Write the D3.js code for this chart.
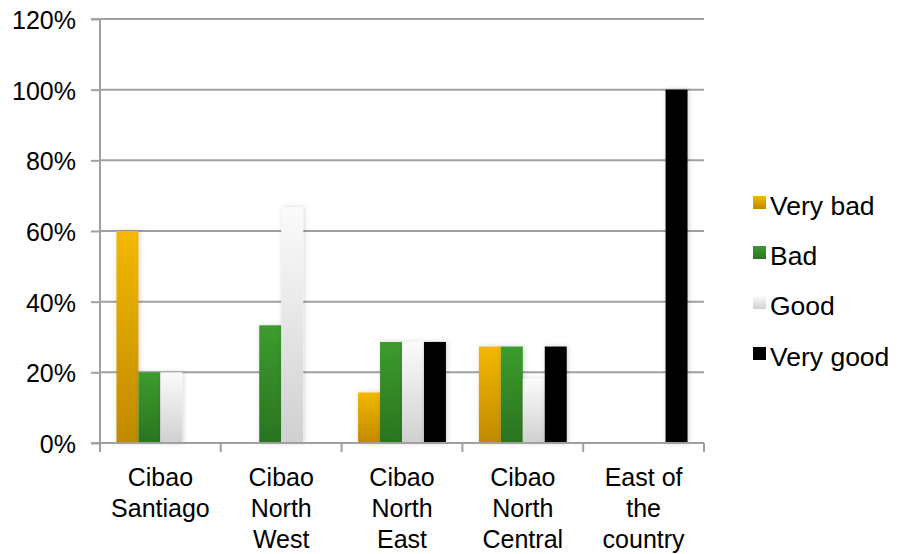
<!DOCTYPE html>
<html>
<head>
<meta charset="utf-8">
<script src="https://cdn.jsdelivr.net/npm/d3@7"></script>
<style>
  html, body { margin: 0; padding: 0; background: #fff; }
  svg { display: block; font-family: "Liberation Sans", Arial, sans-serif; }
</style>
</head>
<body>
<svg id="chart" width="898" height="554"></svg>
<script>
// Regions surveyed and the share of answers per rating
const regions = [
  ["Cibao", "Santiago"],
  ["Cibao", "North", "West"],
  ["Cibao", "North", "East"],
  ["Cibao", "North", "Central"],
  ["East of", "the", "country"]
];
const ratings = ["Very bad", "Bad", "Good", "Very good"];
const veryBad  = [0.60, 0.00, 0.143, 0.273, 0.00];
const bad      = [0.20, 0.333, 0.286, 0.273, 0.00];
const good     = [0.20, 0.667, 0.286, 0.182, 0.00];
const veryGood = [0.00, 0.00, 0.286, 0.273, 1.00];
const yTicks = [0, 0.2, 0.4, 0.6, 0.8, 1.0, 1.2];

const seriesValues = [veryBad, bad, good, veryGood];

const svg = d3.select("#chart");
const FONT = 25;
const LEGEND_FONT = 26.5;
const margin = { left: 100, right: 194, top: 19, bottom: 111 };
const W = 898, H = 554;
const x0 = margin.left, x1 = W - margin.right;
const yTop = margin.top, yBottom = H - margin.bottom;

const regionIdx = d3.range(regions.length);
const x = d3.scaleBand().domain(regionIdx).range([x0, x1]).paddingInner(0).paddingOuter(0);
const xs = d3.scaleBand().domain(ratings).range([0, x.bandwidth()]).paddingInner(0).paddingOuter(0.75);
const y = d3.scaleLinear().domain([0, 1.2]).range([yBottom, yTop]);

// Gradients for the bar fills
const defs = svg.append("defs");
const grads = [
  { id: "gVeryBad", top: "#F3B800", bottom: "#C08A00" },
  { id: "gBad", top: "#3C9C2E", bottom: "#2A741F" },
  { id: "gGood", top: "#FBFBFB", bottom: "#D0D0D0" },
  { id: "gVeryGood", top: "#000000", bottom: "#000000" }
];
grads.forEach(g => {
  const lg = defs.append("linearGradient").attr("id", g.id)
    .attr("x1", 0).attr("y1", 0).attr("x2", 0).attr("y2", 1);
  lg.append("stop").attr("offset", "0%").attr("stop-color", g.top);
  lg.append("stop").attr("offset", "100%").attr("stop-color", g.bottom);
});
const shadow = defs.append("filter").attr("id", "barShadow")
  .attr("x", "-40%").attr("y", "-10%").attr("width", "180%").attr("height", "120%");
shadow.append("feDropShadow").attr("dx", 1).attr("dy", 0).attr("stdDeviation", 2.5)
  .attr("flood-color", "#000").attr("flood-opacity", 0.18);

// Horizontal gridlines
svg.append("g").selectAll("line").data(yTicks.slice(1)).join("line")
  .attr("x1", x0).attr("x2", x1)
  .attr("y1", d => y(d)).attr("y2", d => y(d))
  .attr("stroke", "#a0a0a0").attr("stroke-width", 2);

// Y axis
const yAxis = d3.axisLeft(y).tickValues(yTicks).tickSize(9).tickPadding(15)
  .tickFormat(d3.format(".0%"));
const gy = svg.append("g").attr("transform", `translate(${x0},0)`).call(yAxis);
gy.select(".domain").attr("stroke", "#a0a0a0").attr("stroke-width", 2)
  .attr("d", `M-9,${yTop}H0V${yBottom}H-9`);
gy.selectAll(".tick line").attr("stroke", "#a0a0a0").attr("stroke-width", 2);
gy.selectAll(".tick text").attr("font-size", FONT).attr("fill", "#000").attr("dy", "0.38em")
  .attr("font-family", "Liberation Sans, Arial, sans-serif");

// Bars
const groups = svg.append("g").selectAll("g").data(ratings).join("g")
  .attr("filter", "url(#barShadow)");
groups.each(function(r, si) {
  d3.select(this).selectAll("rect").data(seriesValues[si]).join("rect")
    .attr("x", (d, i) => x(i) + xs(r))
    .attr("width", xs.bandwidth())
    .attr("y", d => y(d))
    .attr("height", d => yBottom - y(d))
    .attr("fill", `url(#${grads[si].id})`)
    .attr("display", d => d > 0 ? null : "none");
});

// X axis with ticks at category boundaries
const gx = svg.append("g");
gx.append("line").attr("x1", x0 - 9).attr("x2", x1).attr("y1", yBottom).attr("y2", yBottom)
  .attr("stroke", "#a0a0a0").attr("stroke-width", 2);
gx.selectAll("line.tk").data(d3.range(regions.length + 1)).join("line").attr("class", "tk")
  .attr("x1", i => x0 + i * x.bandwidth()).attr("x2", i => x0 + i * x.bandwidth())
  .attr("y1", yBottom).attr("y2", yBottom + 9)
  .attr("stroke", "#a0a0a0").attr("stroke-width", 2);

// Category labels
const labels = svg.append("g").selectAll("text").data(regionIdx).join("text")
  .attr("x", i => x(i) + x.bandwidth() / 2)
  .attr("y", yBottom + 43)
  .attr("text-anchor", "middle").attr("font-size", FONT).attr("fill", "#000");
labels.each(function(i) {
  d3.select(this).selectAll("tspan").data(regions[i]).join("tspan")
    .attr("x", x(i) + x.bandwidth() / 2)
    .attr("dy", (d, k) => k === 0 ? 0 : 31)
    .text(d => d);
});

// Legend
const legend = svg.append("g").attr("transform", "translate(753,0)");
const legendBase = [215, 265, 315, 366];
ratings.forEach((r, i) => {
  const g = legend.append("g").attr("transform", `translate(0,${legendBase[i]})`);
  g.append("rect").attr("x", 0).attr("y", -19).attr("width", 13).attr("height", 13)
    .attr("fill", `url(#${grads[i].id})`);
  g.append("text").attr("x", 17).attr("y", 0)
    .attr("font-size", LEGEND_FONT).attr("fill", "#000").text(r);
});
</script>
</body>
</html>
